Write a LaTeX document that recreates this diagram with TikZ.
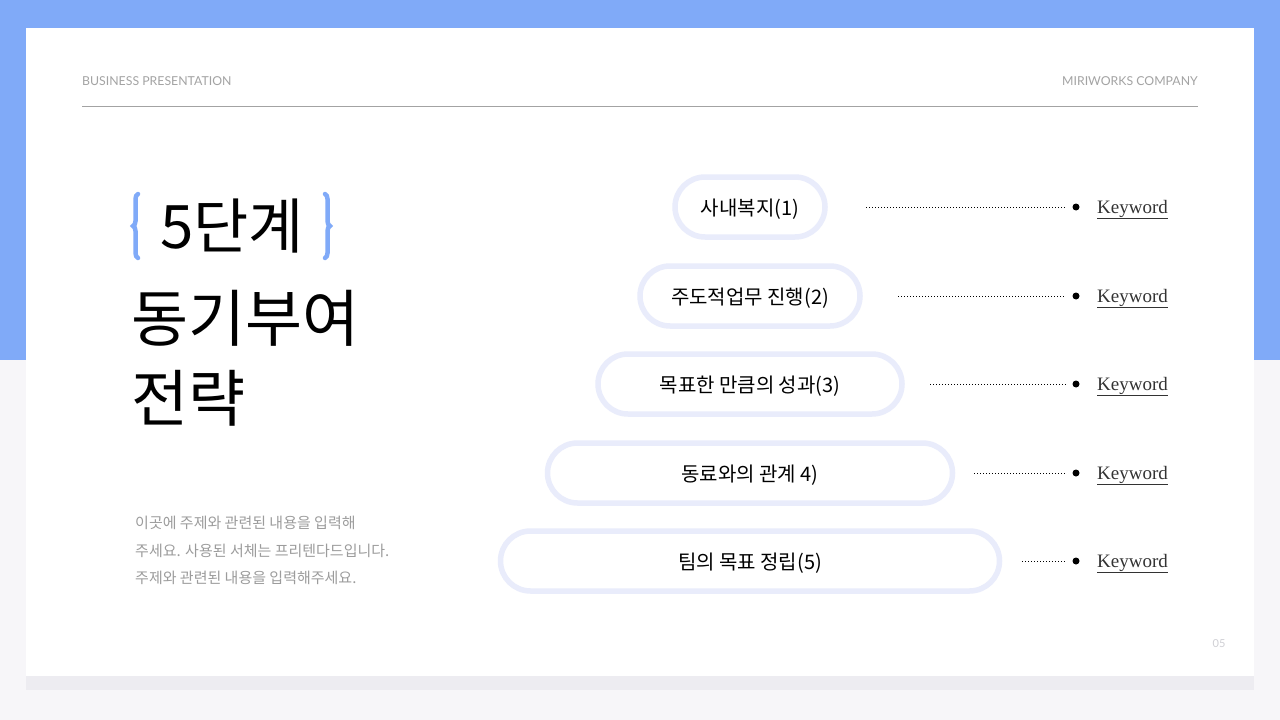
\documentclass[tikz,border=0pt]{standalone}
\usepackage{fontspec}
\setmainfont{Liberation Serif}
\newfontfamily\kr{Noto Sans CJK KR}
\newfontfamily\lat{Lato}
\usetikzlibrary{decorations.pathreplacing}
\definecolor{bgblue}{HTML}{80AAF8}
\definecolor{bggray}{HTML}{F7F6F9}
\definecolor{strip}{HTML}{EDECF1}
\definecolor{pillline}{HTML}{E9ECFB}
\definecolor{hdr}{HTML}{A3A3A3}
\definecolor{body}{HTML}{9C9C9C}
\definecolor{pgnum}{HTML}{CFCFD4}
\tikzset{
  pill/.style={draw=pillline, line width=5.5pt, fill=white, rounded corners=30pt,
    minimum height=60pt, inner sep=0pt, text height=18pt, text depth=2pt,
    font=\kr\fontsize{20}{23}\selectfont, text=black},
  dotline/.style={dotted, line width=1pt, black, shorten >=7pt},
  kdot/.style={circle, fill=black, minimum size=7pt, inner sep=0pt},
  kw/.style={anchor=base west, inner sep=0pt, font=\fontsize{19}{22}\selectfont, text=black!80},
  hdrtext/.style={inner sep=0pt, text=hdr, font=\lat\fontsize{12.3}{14}\selectfont},
  title/.style={anchor=west, inner sep=0pt, font=\kr\fontsize{62}{72}\selectfont, text=black},
  bodytext/.style={anchor=west, inner sep=0pt, text=body, font=\kr\fontsize{15}{17}\selectfont},
  bracepath/.style={bgblue, line width=4.5pt, line cap=round, decorate,
    decoration={brace, amplitude=5pt}}
}
\begin{document}
\begin{tikzpicture}[x=1pt, y=-1pt]
\useasboundingbox (0,0) rectangle (1280,720);
% background
\fill[bggray] (0,0) rectangle (1280,720);
\fill[bgblue] (0,0) rectangle (1280,360);
\fill[strip] (26,676) rectangle (1254,690);
\fill[white] (26,28) rectangle (1254,676);
% header
\node[hdrtext, anchor=west] (h1) at (82,81) {BUSINESS PRESENTATION};
\node[hdrtext, anchor=east] (h2) at (1198,81) {MIRIWORKS COMPANY};
\draw[hdr, line width=1pt] (82,106) -- (1198,106);
% title
\draw[bracepath] (138,258) -- (138,194);
\draw[bracepath] (325,194) -- (325,258);
\node[title, font=\kr\fontsize{60}{70}\selectfont] (t1) at (160,226) {5단계};
\node[title] (t2) at (131,318) {동기부여};
\node[title] (t3) at (131,398) {전략};
% body
\node[bodytext] (b1) at (135,523) {이곳에 주제와 관련된 내용을 입력해};
\node[bodytext] (b2) at (135,551) {주세요. 사용된 서체는 프리텐다드입니다.};
\node[bodytext] (b3) at (135,578) {주제와 관련된 내용을 입력해주세요.};
% pills
\node[pill, minimum width=150pt] (p1) at (750,207) {사내복지(1)};
\node[pill, minimum width=220pt] (p2) at (750,296) {주도적업무 진행(2)};
\node[pill, minimum width=304pt] (p3) at (750,384) {목표한 만큼의 성과(3)};
\node[pill, minimum width=405pt] (p4) at (750,473) {동료와의 관계 4)};
\node[pill, minimum width=499pt] (p5) at (750,561) {팀의 목표 정립(5)};
% keyword rows
\foreach \i/\y/\s in {1/207/866, 2/296/898, 3/384/930, 4/473/974, 5/561/1022}{
  \coordinate (s\i) at (\s,\y);
  \node[kdot] (k\i) at (1076,\y) {};
  \draw[dotline] (s\i) -- (k\i.west);
  \node[kw] (w\i) at (1097,\y+6) {\underline{Keyword}};
}
% page number
\node[inner sep=0pt, text=pgnum, font=\lat\fontsize{11}{12}\selectfont] (pg) at (1219,644) {05};
\end{tikzpicture}
\end{document}
